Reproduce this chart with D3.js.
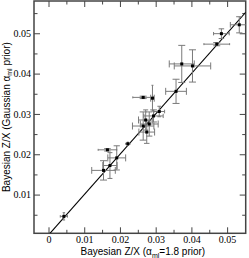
<!DOCTYPE html>
<html>
<head>
<meta charset="utf-8">
<script src="https://cdn.jsdelivr.net/npm/d3@7"></script>
<style>
  body { margin: 0; background: #fff; }
  svg { display: block; }
  .tick text { font-family: "Liberation Serif", "DejaVu Serif", serif; font-size: 10px; fill: #000; }
  .tick line { stroke: #444; }
  .title { font-family: "Liberation Sans", Arial, sans-serif; font-size: 10px; fill: #000; }
</style>
</head>
<body>
<svg id="chart" width="249" height="258"></svg>
<script>
// Z/X values, alpha_ml = 1.8 prior (x) vs Gaussian alpha_ml prior (y)
var zxFixed    = [0.0534, 0.0484, 0.0471, 0.0373, 0.0403, 0.0357, 0.0265, 0.0291, 0.0310, 0.0294,
                  0.0272, 0.0282, 0.0265, 0.0275, 0.0222, 0.0191, 0.0172, 0.0165, 0.0154, 0.0043];
var zxFixedErr = [0.0025, 0.0022, 0.0036, 0.0035, 0.0051, 0.0029, 0.0029, 0.0005, 0.0015, 0.0027,
                  0.0020, 0.0025, 0.0030, 0.0022, 0.0006, 0.0025, 0.0020, 0.0026, 0.0033, 0.0010];
var zxGauss    = [0.0521, 0.0499, 0.0473, 0.0424, 0.0419, 0.0356, 0.0341, 0.0339, 0.0306, 0.0295,
                  0.0285, 0.0275, 0.0270, 0.0255, 0.0226, 0.0191, 0.0172, 0.0211, 0.0160, 0.0046];
var zxGaussErr = [0.0020, 0.0012, 0.0004, 0.0046, 0.0040, 0.0030, 0.0003, 0.0032, 0.0013, 0.0015,
                  0.0025, 0.0030, 0.0035, 0.0028, 0.0004, 0.0030, 0.0032, 0.0003, 0.0024, 0.0009];
var majorTicks = [0, 0.01, 0.02, 0.03, 0.04, 0.05];
var minorTicks = [0.005, 0.015, 0.025, 0.035, 0.045, 0.055];

var svg = d3.select('#chart');
var pLeft = 34, pTop = 1, pRight = 245.7, pBottom = 233.3;
var CAP = 3.5;

var x = d3.scaleLinear().domain([-0.00406, 0.0552]).range([pLeft, pRight]);
var y = d3.scaleLinear().domain([0.0004, 0.0580]).range([pBottom, pTop]);

svg.append('clipPath').attr('id', 'clip')
    .append('rect')
    .attr('x', pLeft).attr('y', pTop)
    .attr('width', pRight - pLeft).attr('height', pBottom - pTop);

var fmt = function (d) { return d === 0 ? '0' : d3.format('.2f')(d); };

// axes, ticks pointing inward on all four sides
var addAxis = function (gen, tf, vals, size, labels) {
  var g = svg.append('g').attr('transform', tf)
      .call(gen.tickValues(vals).tickSize(-size).tickPadding(3)
          .tickFormat(labels ? fmt : ''));
  g.select('.domain').remove();
  return g;
};
var xMinor = minorTicks.filter(function (d) { return d < x.domain()[1]; });
addAxis(d3.axisBottom(x), 'translate(0,' + pBottom + ')', majorTicks, 6, true);
addAxis(d3.axisBottom(x), 'translate(0,' + pBottom + ')', xMinor, 3.5, false);
addAxis(d3.axisTop(x), 'translate(0,' + pTop + ')', majorTicks, 6, false);
addAxis(d3.axisTop(x), 'translate(0,' + pTop + ')', xMinor, 3.5, false);
addAxis(d3.axisLeft(y), 'translate(' + pLeft + ',0)', majorTicks.slice(1), 6, true);
addAxis(d3.axisLeft(y), 'translate(' + pLeft + ',0)', minorTicks, 3.5, false);
addAxis(d3.axisRight(y), 'translate(' + pRight + ',0)', majorTicks.slice(1), 6, false);
addAxis(d3.axisRight(y), 'translate(' + pRight + ',0)', minorTicks, 3.5, false);

svg.append('rect')
    .attr('x', pLeft).attr('y', pTop)
    .attr('width', pRight - pLeft).attr('height', pBottom - pTop)
    .attr('fill', 'none').attr('stroke', '#444').attr('stroke-width', 1.5);

var plot = svg.append('g').attr('clip-path', 'url(#clip)');

// one-to-one line
var lo = Math.max(x.domain()[0], y.domain()[0]);
var hi = Math.min(x.domain()[1], y.domain()[1]);
plot.append('line')
    .attr('x1', x(lo)).attr('y1', y(lo))
    .attr('x2', x(hi)).attr('y2', y(hi))
    .attr('stroke', '#000').attr('stroke-width', 1.1);

var pts = zxFixed.map(function (v, i) {
  return {x: v, ex: zxFixedErr[i], y: zxGauss[i], ey: zxGaussErr[i]};
});

// caps shrink on very short bars so they do not close into a box
var capFor = function (half) { return Math.min(CAP, Math.max(1, half * 0.35)); };

var bars = plot.selectAll('g.pt').data(pts).enter().append('g')
    .attr('class', 'pt')
    .attr('stroke', '#7a7a7a').attr('stroke-width', 1).attr('fill', 'none');

bars.append('path').attr('d', function (d) {
  var x0 = x(d.x - d.ex), x1 = x(d.x + d.ex), yy = y(d.y);
  var c = capFor(y(d.y - d.ey) - yy);
  return 'M' + x0 + ',' + yy + 'H' + x1 +
      'M' + x0 + ',' + (yy - c) + 'V' + (yy + c) +
      'M' + x1 + ',' + (yy - c) + 'V' + (yy + c);
});
bars.append('path').attr('d', function (d) {
  var y0 = y(d.y - d.ey), y1 = y(d.y + d.ey), xx = x(d.x);
  var c = capFor(xx - x(d.x - d.ex));
  return 'M' + xx + ',' + y0 + 'V' + y1 +
      'M' + (xx - c) + ',' + y0 + 'H' + (xx + c) +
      'M' + (xx - c) + ',' + y1 + 'H' + (xx + c);
});

plot.selectAll('rect.mk').data(pts).enter().append('rect')
    .attr('class', 'mk')
    .attr('x', function (d) { return x(d.x) - 1.5; })
    .attr('y', function (d) { return y(d.y) - 1.5; })
    .attr('width', 3).attr('height', 3)
    .attr('fill', '#000');

// axis titles
var xt = svg.append('text').attr('class', 'title')
    .attr('x', (pLeft + pRight) / 2 + 3).attr('y', 255)
    .attr('text-anchor', 'middle');
xt.append('tspan').text('Bayesian Z/X (\u03b1');
xt.append('tspan').attr('dy', 2.5).attr('font-size', '7px').text('ml');
xt.append('tspan').attr('dy', -2.5).text('=1.8 prior)');

var yt = svg.append('text').attr('class', 'title')
    .attr('transform', 'translate(9.5,' + ((pTop + pBottom) / 2) + ') rotate(-90)')
    .attr('text-anchor', 'middle');
yt.append('tspan').text('Bayesian Z/X (Gaussian \u03b1');
yt.append('tspan').attr('dy', 2.5).attr('font-size', '7px').text('ml');
yt.append('tspan').attr('dy', -2.5).text(' prior)');
</script>
</body>
</html>
